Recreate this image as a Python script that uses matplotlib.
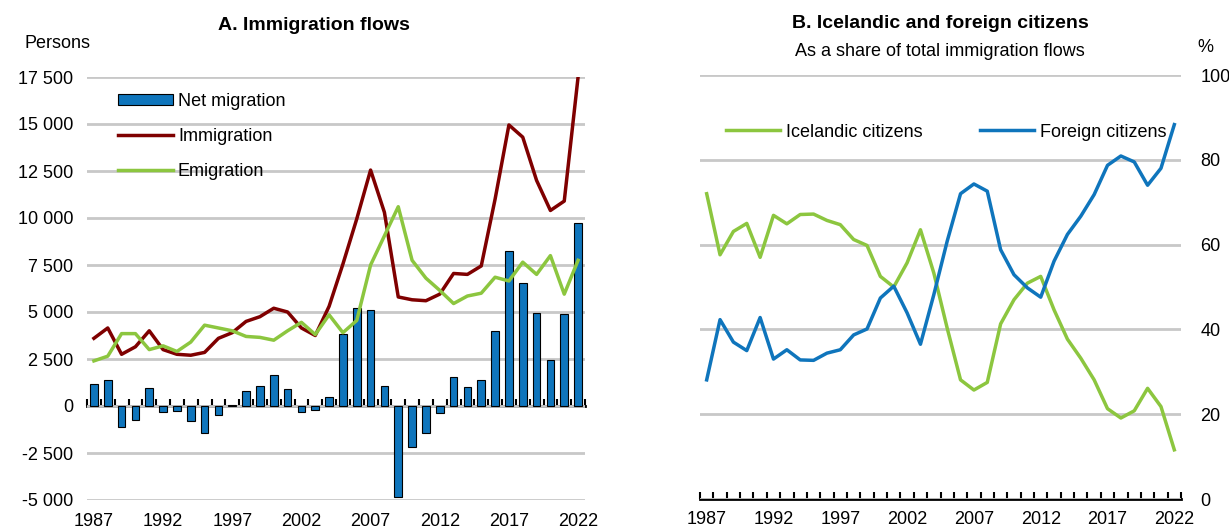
import matplotlib
matplotlib.use("Agg")
import matplotlib.pyplot as plt
import numpy as np

plt.rcParams['font.family'] = ['Liberation Sans', 'DejaVu Sans']

years = list(range(1987, 2023))

net_migration = [1150, 1400, -1120, -730, 960, -310, -260, -820, -1450, -490,
                 40, 820, 1070, 1660, 930, -330, -190, 470, 3850, 5200,
                 5100, 1080, -4840, -2190, -1450, -380, 1550, 1030, 1400, 4000,
                 8250, 6550, 4950, 2450, 4900, 9750]
immigration = [3600, 4150, 2750, 3150, 4000, 3000, 2750, 2700, 2850, 3600,
               3900, 4500, 4750, 5200, 5000, 4150, 3750, 5300, 7550, 9950,
               12550, 10300, 5800, 5650, 5600, 5950, 7050, 7000, 7450, 11000,
               14950, 14300, 12000, 10400, 10900, 17500]
emigration = [2400, 2650, 3850, 3850, 3000, 3200, 2900, 3400, 4300, 4150,
              4000, 3700, 3650, 3500, 4000, 4450, 3800, 4850, 3900, 4550,
              7500, 9050, 10600, 7750, 6800, 6150, 5450, 5850, 6000, 6850,
              6650, 7650, 7000, 8000, 5950, 7750]

icelandic = [72.0, 57.6, 63.1, 65.0, 57.0, 66.9, 64.9, 67.1, 67.2, 65.7,
             64.7, 61.2, 59.8, 52.5, 50.0, 55.7, 63.5, 53.3, 40.3, 28.1,
             25.7, 27.5, 41.3, 47.0, 50.9, 52.5, 44.6, 37.7, 33.2, 28.1,
             21.3, 19.1, 20.8, 26.1, 21.8, 11.6]
foreign = [28.1, 42.3, 37.0, 35.0, 42.8, 33.0, 35.2, 32.8, 32.7, 34.4,
           35.2, 38.7, 40.1, 47.4, 50.2, 43.9, 36.5, 48.2, 60.8, 72.0,
           74.3, 72.6, 58.8, 52.9, 49.8, 47.6, 56.1, 62.4, 66.7, 71.8,
           78.7, 80.9, 79.5, 74.0, 78.0, 88.3]

label_years = [1987, 1992, 1997, 2002, 2007, 2012, 2017, 2022]

BLUE = '#0F75BC'
RED = '#7F0000'
GREEN = '#8CC63F'
GRID = '#C8C8C8'
FS = 13

fig = plt.figure(figsize=(12.29, 5.28), dpi=100)
ax1 = fig.add_axes([87 / 1229, 1 - 500 / 528, (585 - 87) / 1229, (500 - 77) / 528])
ax2 = fig.add_axes([700 / 1229, 1 - 499 / 528, (1181 - 700) / 1229, (499 - 75) / 528])


def style_axis(ax, ylo, yhi, zero_frac):
    ax.set_xlim(1986.5, 2022.5)
    ax.set_ylim(ylo, yhi)
    for s in ax.spines.values():
        s.set_visible(False)
    ax.grid(axis='y', color=GRID, linewidth=2)
    ax.set_axisbelow(True)
    ax.set_xticks(label_years)
    ax.set_xticklabels([str(y) for y in label_years], fontsize=FS)
    ax.tick_params(axis='x', length=0, pad=9)
    # zero line with ticks between years
    sec = ax.secondary_xaxis(zero_frac)
    sec.set_xticks(np.arange(1986.5, 2023, 1))
    sec.tick_params(axis='x', direction='in', length=5, width=1.5,
                    labelbottom=False, labeltop=False)
    sec.spines['bottom'].set_linewidth(2)
    sec.spines['top'].set_linewidth(2)


# Panel A
style_axis(ax1, -5000, 17500, 5000 / 22500)
bars = ax1.bar(years, net_migration, width=0.55, color=BLUE, edgecolor='black',
               linewidth=0.8, label='Net migration', zorder=2)
l_imm, = ax1.plot(years, immigration, color=RED, linewidth=2.5, label='Immigration', zorder=3)
l_emi, = ax1.plot(years, emigration, color=GREEN, linewidth=2.5, label='Emigration', zorder=3)
ax1.set_yticks(np.arange(-5000, 17501, 2500))
ax1.set_yticklabels([f"{v:,}".replace(',', ' ') for v in range(-5000, 17501, 2500)], fontsize=FS)
ax1.tick_params(axis='y', length=0, pad=10)
ax1.legend([bars, l_imm, l_emi], ['Net migration', 'Immigration', 'Emigration'],
           loc='upper left', bbox_to_anchor=(0.063, 0.962), frameon=False, fontsize=FS,
           handlelength=3.0, handleheight=0.6, labelspacing=1.0, handletextpad=0.3,
           borderaxespad=0, borderpad=0)
fig.text(314 / 1229, 1 - 25 / 528, 'A. Immigration flows', fontsize=FS + 1,
         fontweight='bold', ha='center', va='center')
fig.text(25 / 1229, 1 - 44 / 528, 'Persons', fontsize=FS, va='center', ha='left')

# Panel B
style_axis(ax2, 0, 100, 0.0)
ax2.plot(years, icelandic, color=GREEN, linewidth=2.5, label='Icelandic citizens')
ax2.plot(years, foreign, color=BLUE, linewidth=2.5, label='Foreign citizens')
ax2.yaxis.tick_right()
ax2.set_yticks(np.arange(0, 101, 20))
ax2.set_yticklabels([str(v) for v in range(0, 101, 20)], fontsize=FS)
ax2.tick_params(axis='y', length=0, pad=14)
ax2.legend(loc='center', bbox_to_anchor=(0.512, 0.865), ncol=2, frameon=False,
           fontsize=FS, handlelength=3.0, handletextpad=0.3, columnspacing=3.2,
           borderaxespad=0, borderpad=0)
fig.text(940 / 1229, 1 - 23 / 528, 'B. Icelandic and foreign citizens', fontsize=FS + 1,
         fontweight='bold', ha='center', va='center')
fig.text(940 / 1229, 1 - 51 / 528, 'As a share of total immigration flows', fontsize=FS,
         ha='center', va='center')
fig.text(1197 / 1229, 1 - 47 / 528, '%', fontsize=FS, ha='left', va='center')

fig.savefig('out.png', dpi=100)
